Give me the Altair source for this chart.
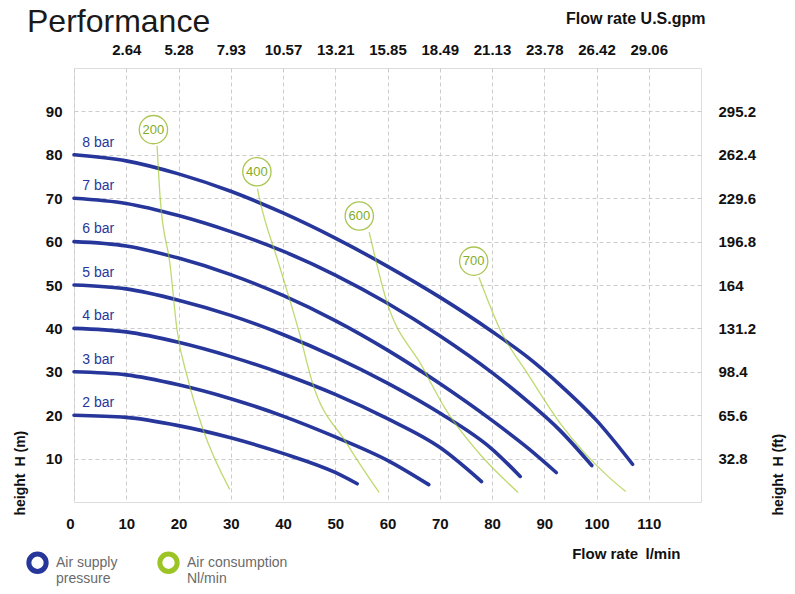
import altair as alt
import pandas as pd

# ---- Air supply pressure curves: flow rate (l/min) vs head (m) ----
pressures = ["2 bar", "3 bar", "4 bar", "5 bar", "6 bar", "7 bar", "8 bar"]
start_heads = [20, 30, 40, 50, 60, 70, 80]

bar2_q = [0, 10, 20, 30, 40, 50, 54.2]
bar2_h = [20, 19.5, 17.6, 14.8, 11.2, 6.8, 4.2]
bar3_q = [0, 10, 20, 30, 40, 50, 60, 67.9]
bar3_h = [30, 29.3, 27.0, 23.8, 19.8, 15.0, 9.6, 4.0]
bar4_q = [0, 10, 20, 30, 40, 50, 60, 70, 78]
bar4_h = [40, 39.2, 36.8, 33.5, 29.5, 24.8, 19.2, 12.6, 4.7]
bar5_q = [0, 10, 20, 30, 40, 50, 60, 70, 80, 85.4]
bar5_h = [50, 49.1, 46.5, 43.0, 38.6, 33.4, 27.4, 20.5, 12.2, 5.9]
bar6_q = [0, 10, 20, 30, 40, 50, 60, 70, 80, 87, 92.3]
bar6_h = [60, 59.0, 56.2, 52.4, 47.6, 41.8, 35.0, 27.3, 18.8, 12.3, 6.8]
bar7_q = [0, 10, 20, 30, 40, 50, 60, 70, 80, 87, 93, 99.1]
bar7_h = [70, 68.8, 66.0, 62.3, 57.8, 52.3, 45.8, 38.3, 29.8, 23.0, 16.5, 8.4]
bar8_q = [0, 10, 20, 30, 40, 50, 60, 70, 80, 87, 93, 100, 106.9]
bar8_h = [80, 78.6, 75.6, 71.6, 66.6, 60.8, 54.3, 47.2, 39.3, 33.2, 27.0, 18.8, 8.7]

# ---- Air consumption lines (Nl/min) ----
consumptions = ["200", "400", "600", "700"]
c200_q = [15.9, 16.5, 18.4, 19.7, 21.8, 24.7, 29.8]
c200_h = [82.1, 69.9, 54.5, 39.8, 28.3, 16.7, 2.9]
c400_q = [35.1, 35.5, 39.3, 43.1, 45.6, 52.1, 58.4]
c400_h = [72.2, 69.9, 54.5, 39.1, 27.6, 13.7, 2.2]
c600_q = [56.5, 59.7, 66.6, 71.1, 77.4, 85.0]
c600_h = [62.2, 46.8, 31.3, 21.4, 11.4, 2.2]
c700_q = [77.5, 81.8, 86.9, 93.2, 102.2, 105.6]
c700_h = [51.8, 39.1, 29.4, 17.9, 5.9, 2.4]
bubble_q = [15.2, 35.0, 54.6, 76.5]
bubble_h = [85.8, 76.1, 65.9, 55.5]

# ---- Axis tick labels ----
lpm_ticks = [0, 10, 20, 30, 40, 50, 60, 70, 80, 90, 100, 110]
gpm_labels = ["2.64", "5.28", "7.93", "10.57", "13.21", "15.85", "18.49",
              "21.13", "23.78", "26.42", "29.06"]
m_ticks = [10, 20, 30, 40, 50, 60, 70, 80, 90]
ft_labels = ["32.8", "65.6", "98.4", "131.2", "164", "196.8", "229.6",
             "262.4", "295.2"]

kinds = ["Air supply|pressure", "Air consumption|Nl/min"]
BLUE = "#27369b"
GREEN = "#9cc424"
FONT = "Liberation Sans"

pressure_rows = []
for name, qs, hs in zip(pressures,
                        [bar2_q, bar3_q, bar4_q, bar5_q, bar6_q, bar7_q, bar8_q],
                        [bar2_h, bar3_h, bar4_h, bar5_h, bar6_h, bar7_h, bar8_h]):
    for i, (q, h) in enumerate(zip(qs, hs)):
        pressure_rows.append({"q": q, "h": h, "series": name, "kind": kinds[0], "idx": i})
air_rows = []
for name, qs, hs in zip(consumptions,
                        [c200_q, c400_q, c600_q, c700_q],
                        [c200_h, c400_h, c600_h, c700_h]):
    for i, (q, h) in enumerate(zip(qs, hs)):
        air_rows.append({"q": q, "h": h, "series": "c" + name, "kind": kinds[1], "idx": i})
pressure_df = pd.DataFrame(pressure_rows)
air_df = pd.DataFrame(air_rows)

labels_df = pd.DataFrame({"q": [1.6] * len(pressures),
                          "h": [h + 2.8 for h in start_heads],
                          "text": pressures})
bubbles_df = pd.DataFrame({"q": bubble_q, "h": bubble_h, "text": consumptions})

x_scale = alt.Scale(domain=[0, 120], nice=False, zero=False)
y_scale = alt.Scale(domain=[0, 100], nice=False, zero=False)

common_axis = dict(ticks=False, domain=False, labelFont=FONT, labelFontWeight="bold",
                   labelColor="#111", labelFontSize=15, titleFont=FONT,
                   titleFontWeight="bold", titleColor="#111")

bottom_axis = alt.Axis(values=lpm_ticks, title="Flow rate\u2002l/min", grid=True,
                       gridDash=[4, 3], gridColor="#cccccc", labelPadding=14,
                       labelAlign=alt.ExprRef(expr="datum.value == 0 ? 'right' : 'center'"),
                       titleAnchor="start", titleX=606, titleY=56, titleAlign="right",
                       titleBaseline="alphabetic", titleFontSize=15, **common_axis)
left_axis = alt.Axis(values=m_ticks, title="height\u2002H (m)", grid=True,
                     gridDash=[4, 3], gridColor="#cccccc", labelPadding=12,
                     titleAngle=270, titleX=-54, titleY=447, titleAlign="left",
                     titleBaseline="middle", titleAnchor="start", titleFontSize=14,
                     **common_axis)
gpm_expr = "[" + ",".join("'%s'" % s for s in gpm_labels) + "][round(datum.value / 10) - 1]"
top_axis = alt.Axis(orient="top", values=lpm_ticks[1:], labelExpr=gpm_expr,
                    title="Flow rate U.S.gpm", grid=False, labelPadding=11,
                    titleAnchor="start", titleX=631, titleY=-45, titleAlign="right",
                    titleBaseline="alphabetic", titleFontSize=16, **common_axis)
ft_expr = "[" + ",".join("'%s'" % s for s in ft_labels) + "][round(datum.value / 10) - 1]"
right_axis = alt.Axis(orient="right", values=m_ticks, labelExpr=ft_expr,
                      title="height\u2002H (ft)", grid=False, labelPadding=17,
                      titleAngle=270, titleX=77, titleY=447, titleAlign="left",
                      titleBaseline="middle", titleAnchor="start", titleFontSize=14,
                      **common_axis)

legend = alt.Legend(title=None, orient="none", direction="horizontal",
                    legendX=-48, legendY=483, symbolType="circle",
                    symbolSize=300, symbolStrokeWidth=5, symbolOpacity=1,
                    symbolFillColor="white", labelFont=FONT,
                    labelFontSize=14, labelColor="#6a6a6a",
                    labelOffset=7, columnPadding=31, labelLimit=0,
                    labelExpr="split(datum.label, '|')")
color_enc = alt.Color("kind:N", scale=alt.Scale(domain=kinds, range=[BLUE, GREEN]),
                      legend=legend)

pressure_lines = alt.Chart(pressure_df).mark_line(
    interpolate="monotone", strokeCap="round", strokeWidth=3.6
).encode(
    x=alt.X("q:Q", scale=x_scale, axis=bottom_axis),
    y=alt.Y("h:Q", scale=y_scale, axis=left_axis),
    color=color_enc,
    detail="series:N",
    order="idx:Q",
)

air_lines = alt.Chart(air_df).mark_line(
    interpolate="monotone", strokeWidth=1.3, strokeOpacity=0.65
).encode(
    x=alt.X("q:Q", scale=x_scale, axis=None),
    y=alt.Y("h:Q", scale=y_scale, axis=None),
    color=color_enc,
    detail="series:N",
    order="idx:Q",
)

bar_labels = alt.Chart(labels_df).mark_text(align="left", baseline="middle", font=FONT,
                                            fontSize=14, color=BLUE).encode(
    x=alt.X("q:Q", scale=x_scale, axis=None),
    y=alt.Y("h:Q", scale=y_scale, axis=None),
    text="text:N",
)

bubbles = alt.Chart(bubbles_df).mark_point(shape="circle", size=800, fill="white",
                                           stroke="#aac651", strokeWidth=1.3,
                                           opacity=1, fillOpacity=1).encode(
    x=alt.X("q:Q", scale=x_scale, axis=top_axis),
    y=alt.Y("h:Q", scale=y_scale, axis=right_axis),
)

bubble_text = alt.Chart(bubbles_df).mark_text(align="center", baseline="middle", font=FONT,
                                              fontSize=13, color="#84ad26").encode(
    x=alt.X("q:Q", scale=x_scale, axis=None),
    y=alt.Y("h:Q", scale=y_scale, axis=None),
    text="text:N",
)

chart = alt.layer(pressure_lines, air_lines, bar_labels, bubbles, bubble_text).resolve_axis(
    x="independent", y="independent"
).properties(
    width=627, height=434,
    title=alt.TitleParams("Performance", anchor="start", frame="group", font=FONT,
                          fontSize=32, fontWeight="normal", color="#1a1a1a",
                          dx=-47, dy=29, offset=0),
    autosize=alt.AutoSizeParams(type="none"),
    padding={"left": 66, "top": 60, "right": 86, "bottom": 84},
).configure_view(stroke="#555555", strokeWidth=1.3).configure(background="white")

chart.save("out.html", embed_options={"renderer": "svg", "actions": False})
